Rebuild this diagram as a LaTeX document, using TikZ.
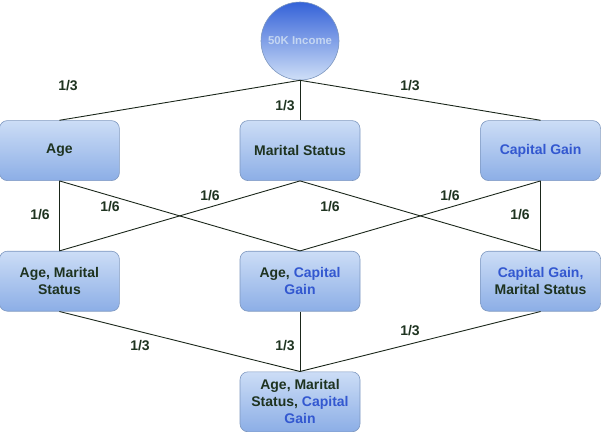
\documentclass[tikz,border=0pt]{standalone}
\usepackage{xcolor}
\usepackage{tikz}
\usepackage{fontspec}
\setmainfont{Liberation Sans}
\usetikzlibrary{positioning}
\definecolor{boxtop}{HTML}{CCDDF6}
\definecolor{boxbot}{HTML}{8CAEE6}
\definecolor{boxline}{HTML}{7D97BF}
\definecolor{inctop}{HTML}{3462D8}
\definecolor{incbot}{HTML}{CFDFF7}
\definecolor{inctext}{HTML}{C4D6F2}
\definecolor{textdark}{HTML}{1E3320}
\definecolor{capblue}{HTML}{3358D0}
\definecolor{linkcol}{HTML}{1A261A}
\tikzstyle{link} = [draw=linkcol, line width=0.9pt]
\newcommand{\capgain}[1]{\textcolor{capblue}{#1}}

\begin{document}
\begin{tikzpicture}[x=1pt, y=-1pt,
  box/.style={rectangle, draw=boxline, line width=0.6pt, top color=boxtop, bottom color=boxbot, minimum width=120pt, minimum height=60pt, inner sep=0pt, rounded corners=8pt, align=center, text=textdark, font=\bfseries\fontsize{14}{17}\selectfont},
  income/.style={circle, draw=boxline, line width=0.6pt, top color=inctop, bottom color=incbot, minimum size=78pt, inner sep=0pt, text=inctext, font=\bfseries\fontsize{11.4}{13}\selectfont},
  lbl/.style={text=textdark, font=\bfseries\fontsize{14}{17}\selectfont, inner sep=0pt}]

\useasboundingbox (0,0) rectangle (601,431);

\node[income] (inc) at (300,41) {50K Income};

\node[box, below=40pt of inc] (ms) {Marital Status};
\node[box, left=120pt of ms] (age) {Age};
\node[box, right=120pt of ms] (cg) {\capgain{Capital Gain}};

\node[box, below=70pt of age] (agems) {Age, Marital\\Status};
\node[box, below=70pt of ms] (agecg) {Age, \capgain{Capital}\\\capgain{Gain}};
\node[box, below=70pt of cg] (cgms) {\capgain{Capital Gain,}\\Marital Status};

\node[box, below=60pt of agecg] (all) {Age, Marital\\Status, \capgain{Capital}\\\capgain{Gain}};

% level 1
\draw[link] (inc.south) -- (age.north);
\draw[link] (inc.south) -- (ms.north);
\draw[link] (inc.south) -- (cg.north);

% level 2
\draw[link] (age.south) -- (agems.north);
\draw[link] (age.south) -- (agecg.north);
\draw[link] (ms.south) -- (agems.north);
\draw[link] (ms.south) -- (cgms.north);
\draw[link] (cg.south) -- (agecg.north);
\draw[link] (cg.south) -- (cgms.north);

% level 3
\draw[link] (agems.south) -- (all.north);
\draw[link] (agecg.south) -- (all.north);
\draw[link] (cgms.south) -- (all.north);

% weights
\node[lbl] (w1) at (68,86) {1/3};
\node[lbl] (w2) at (285,106) {1/3};
\node[lbl] (w3) at (410,86) {1/3};
\node[lbl] (w4) at (40,215) {1/6};
\node[lbl] (w5) at (110,207) {1/6};
\node[lbl] (w6) at (210,196) {1/6};
\node[lbl] (w7) at (330,207) {1/6};
\node[lbl] (w8) at (450,196) {1/6};
\node[lbl] (w9) at (520,215) {1/6};
\node[lbl] (w10) at (140,346) {1/3};
\node[lbl] (w11) at (285,346) {1/3};
\node[lbl] (w12) at (410,331) {1/3};
\end{tikzpicture}
\end{document}
